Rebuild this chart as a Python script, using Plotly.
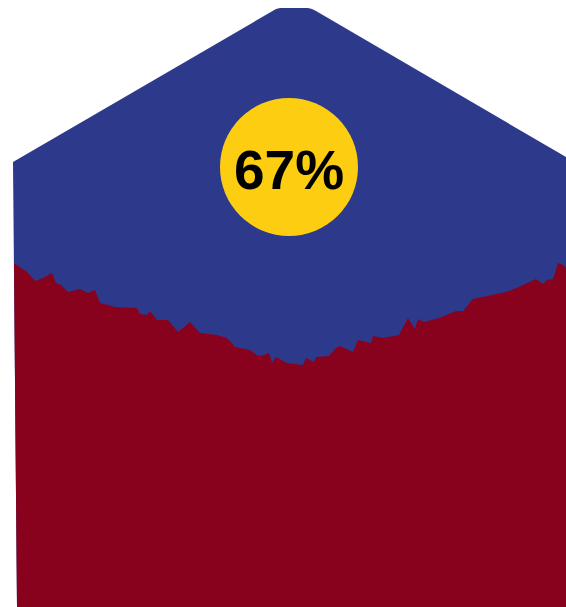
import plotly.graph_objects as go

# Outline of the total (roof shape) along the horizontal position
total_x = [13, 272, 276, 280, 308, 312, 316, 566]
total_h = [445, 596, 598, 599, 599, 598, 596, 450]

# Lower series: jagged profile
part_x = [14, 17, 27, 35, 43, 52, 56, 61, 68, 80, 88, 95, 100, 115, 137, 140, 147, 150,
          157, 168, 178, 190, 200, 217, 227, 235, 250, 258, 264, 269, 272, 276, 287, 303,
          306, 314, 316, 329, 336, 340, 353, 358, 371, 373, 383, 399, 408, 415, 418, 424,
          439, 456, 463, 473, 483, 499, 506, 519, 536, 543, 547, 553, 558, 563, 566]
part_h = [344, 342, 335, 326, 329, 334, 324, 322, 315, 318, 314, 317, 304, 300, 299, 293, 292, 296,
          287, 287, 275, 285, 274, 272, 269, 260, 257, 251, 252, 254, 244, 250, 244, 242,
          249, 245, 250, 251, 259, 261, 255, 267, 264, 271, 269, 272, 289, 278, 288, 285,
          289, 296, 296, 308, 310, 313, 315, 320, 328, 323, 327, 328, 344, 342, 339]

# Base corners shared by both shapes
base_left, base_right = 17, 566

share_label = "67%"
badge_x, badge_h = [289], [440]

BLUE = "#2D3A8B"
RED = "#88021E"
YELLOW = "#FDCD12"

fig = go.Figure()

fig.add_trace(go.Scatter(
    x=total_x + [base_right, base_left],
    y=total_h + [0, 0],
    fill="toself", fillcolor=BLUE, mode="lines",
    line=dict(width=0, color=BLUE), hoverinfo="skip", showlegend=False,
))

fig.add_trace(go.Scatter(
    x=part_x + [base_right, base_left],
    y=part_h + [0, 0],
    fill="toself", fillcolor=RED, mode="lines",
    line=dict(width=0, color=RED), hoverinfo="skip", showlegend=False,
))

fig.add_trace(go.Scatter(
    x=badge_x, y=badge_h, mode="markers",
    marker=dict(size=138, color=YELLOW, line=dict(width=0)),
    hoverinfo="skip", showlegend=False,
))

fig.add_annotation(
    x=badge_x[0], y=badge_h[0], text=share_label, showarrow=False,
    xanchor="center", yanchor="middle", yshift=-3,
    font=dict(family="Liberation Sans, Arial, sans-serif", size=55, color="#000000",
              weight="bold"),
)

fig.update_xaxes(range=[0, 566], visible=False, fixedrange=True)
fig.update_yaxes(range=[0, 607], visible=False, fixedrange=True)
fig.update_layout(
    width=566, height=607, margin=dict(l=0, r=0, t=0, b=0),
    paper_bgcolor="white", plot_bgcolor="white",
)

fig.write_html("out.html", config={"displayModeBar": False})
